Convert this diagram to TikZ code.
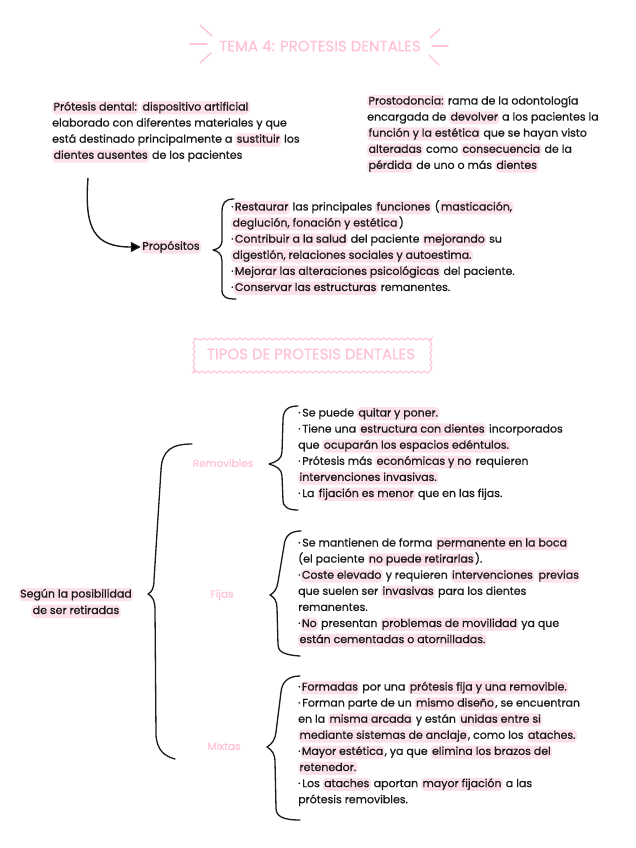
\documentclass[tikz,border=0pt]{standalone}
\usepackage{fontspec}
\setmainfont{Poppins}[FakeBold=0.8]
\usetikzlibrary{decorations.pathmorphing,arrows.meta,calc}
\definecolor{hlpink}{HTML}{FCE1EC}
\definecolor{tpink}{HTML}{FFC2D8}
\definecolor{ink}{HTML}{1A1A1A}
\newcommand\hlt[1]{\tikz[baseline=(hh.base)]\node[fill=hlpink,rounded corners=4pt,inner xsep=1.4pt,inner ysep=1.1pt,text height=8.2pt,text depth=2.7pt,outer sep=0pt,anchor=base](hh){#1};}
\newcommand\bul{·\hspace{1.8pt}}
\tikzset{
  txt/.style={align=left, anchor=north west, inner sep=0pt, text=ink, font=\fontsize{11}{16.1}\selectfont},
  lbl/.style={align=center, inner sep=0pt, text=ink, font=\fontsize{11}{16.5}\selectfont},
  plbl/.style={inner sep=0pt, text=tpink, font=\fontsize{10.5}{14}\selectfont},
  ttl/.style={inner sep=0pt, text=tpink, font=\fontsize{15}{18}\selectfont},
  deco/.style={draw=tpink, line width=1.4pt, line cap=round},
  bracel/.style={draw=ink, line width=1.3pt, line cap=round, line join=round},
  conn/.style={draw=ink, line width=1.4pt, -{Triangle[length=10pt,width=10pt]}}
}
\begin{document}
\begin{tikzpicture}[x=1pt,y=-1pt]
\useasboundingbox[fill=white] (0,0) rectangle (636,848);

% title
\node[ttl] (title) at (320,46) {TEMA 4: PROTESIS DENTALES};
\draw[deco] (200,25) -- (212,36);
\draw[deco] (190,44) -- (207,44);
\draw[deco] (200,63) -- (211,53);
\draw[deco] (430,38) -- (440,29);
\draw[deco] (432,46) -- (448,46);
\draw[deco] (429,55) -- (439,65);

% definitions
\node[txt] (def) at (52,101) {\hlt{Prótesis dental:} \hlt{dispositivo artificial}\\
elaborado con diferentes materiales y que\\
está destinado principalmente a \hlt{sustituir} los\\
\hlt{dientes ausentes} de los pacientes};

\node[txt] (pros) at (367,95) {\hlt{Prostodoncia:} rama de la odontología\\
encargada de \hlt{devolver} a los pacientes la\\
\hlt{función y la estética} que se hayan visto\\
\hlt{alteradas} como \hlt{consecuencia} de la\\
\hlt{pérdida} de uno o más \hlt{dientes}};

% propositos
\node[lbl] (prop) at (171,247) {\hlt{Propósitos}};
\coordinate (a0) at (88,178);
\draw[conn] (a0) .. controls (84,230) and (95,247) .. (prop.west);
\draw[bracel] (234,199) .. controls (225,199) and (222,203) .. (222,212) -- (222,240) .. controls (222,247) and (218,249) .. (213,250) .. controls (218,251) and (222,254) .. (222,261) -- (222,290) .. controls (222,297) and (226,299) .. (236,299);
\node[txt] (plist) at (231,200) {·\hlt{Restaurar} las principales \hlt{funciones} (\hlt{masticación,}\\
\hlt{deglución, fonación y estética})\\
·\hlt{Contribuir a la salud} del paciente \hlt{mejorando} su\\
\hlt{digestión, relaciones sociales y autoestima.}\\
·\hlt{Mejorar las alteraciones psicológicas} del paciente.\\
·\hlt{Conservar las estructuras} remanentes.};

% second title
\node[ttl] (tipos) at (311,354) {TIPOS DE PROTESIS DENTALES};
\draw[draw=tpink, line width=1.1pt, decorate, decoration={snake, amplitude=0.9pt, segment length=6pt}] (194,338) rectangle (430,371);

% root
\node[lbl] (seg) at (76,603) {\hlt{Según la posibilidad}\\ \hlt{de ser retiradas}};
\draw[bracel] (192,444) .. controls (172,444) and (162,450) .. (161,470) -- (154,580) .. controls (154,588) and (152,592) .. (148,594) .. controls (152,596) and (155,600) .. (155,610) -- (156,735) .. controls (157,750) and (164,756) .. (175,759);

% removibles
\node[plbl] (rem) at (223,463) {Removibles};
\draw[bracel] (298,406) .. controls (288,406) and (283,410) .. (283,420) -- (282,452) .. controls (282,459) and (276,462) .. (269,464) .. controls (276,466) and (282,469) .. (282,476) -- (283,500) .. controls (283,507) and (288,510) .. (298,510);
\node[txt] (rlist) at (298,407) {\bul Se puede \hlt{quitar y poner.}\\
\bul Tiene una \hlt{estructura con dientes} incorporados\\
que \hlt{ocuparán los espacios edéntulos.}\\
\bul Prótesis más \hlt{económicas y no} requieren\\
\hlt{intervenciones invasivas.}\\
\bul La \hlt{fijación es menor} que en las fijas.};

% fijas
\node[plbl] (fij) at (222,595) {Fijas};
\draw[bracel] (301,531) .. controls (290,531) and (285,536) .. (284,546) -- (278,582) .. controls (277,589) and (274,593) .. (270,595) .. controls (274,597) and (277,601) .. (277,608) -- (278,645) .. controls (278,651) and (283,655) .. (300,656);
\node[txt] (flist) at (298,537) {\bul Se mantienen de forma \hlt{permanente en la boca}\\
(el paciente \hlt{no puede retirarlas}).\\
·\hlt{Coste elevado} y requieren \hlt{intervenciones} \hlt{previas}\\
que suelen ser \hlt{invasivas} para los dientes\\
remanentes.\\
·\hlt{No} presentan \hlt{problemas de movilidad} ya que\\
\hlt{están cementadas o atornilladas.}};

% mixtas
\node[plbl] (mix) at (224,746) {Mixtas};
\draw[bracel] (300,676) .. controls (288,676) and (282,682) .. (281,692) -- (276,732) .. controls (275,740) and (272,744) .. (267,747) .. controls (272,750) and (275,754) .. (275,762) -- (276,808) .. controls (276,816) and (282,820) .. (300,820);
\node[txt] (mlist) at (298,681) {·\hlt{Formadas} por una \hlt{prótesis fija y una removible.}\\
\bul Forman parte de un \hlt{mismo diseño}, se encuentran\\
en la \hlt{misma arcada} y están \hlt{unidas entre si}\\
\hlt{mediante sistemas de anclaje}, como los \hlt{ataches.}\\
·\hlt{Mayor estética}, ya que \hlt{elimina los brazos del}\\
\hlt{retenedor.}\\
\bul Los \hlt{ataches} aportan \hlt{mayor fijación} a las\\
prótesis removibles.};
\end{tikzpicture}
\end{document}
